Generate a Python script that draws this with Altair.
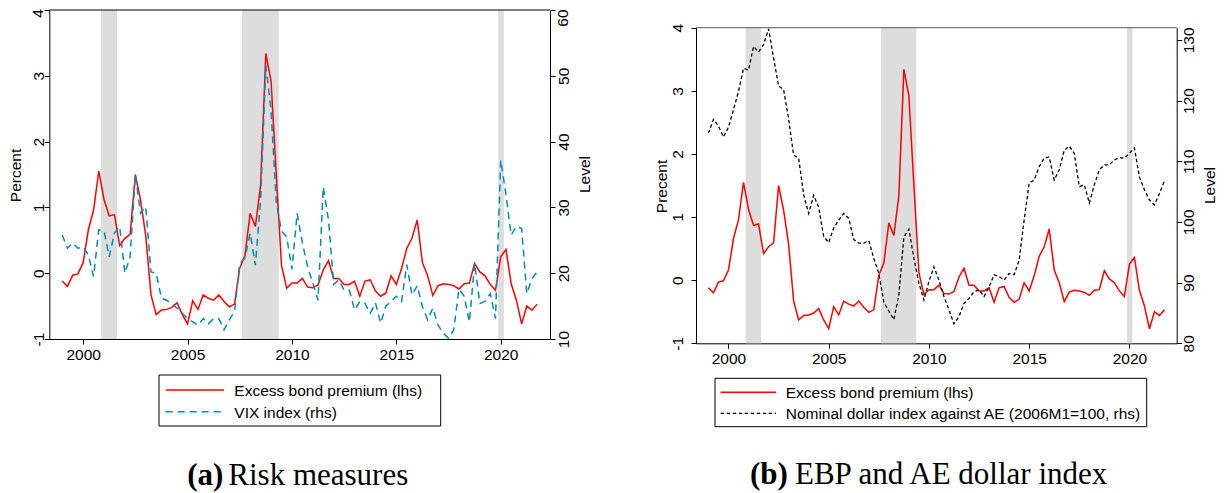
import altair as alt
import pandas as pd

# ---------------- data (quarterly, 1999Q1-2021Q4) ----------------
years = list(range(1999, 2022))
quarters = [1, 2, 3, 4]

ebp = [
    -0.12, -0.20, -0.03, -0.01,
    0.16, 0.66, 0.96, 1.55,
    1.12, 0.87, 0.89, 0.42,
    0.53, 0.59, 1.50, 1.11,
    0.57, -0.33, -0.63, -0.56,
    -0.55, -0.52, -0.45, -0.63,
    -0.77, -0.42, -0.55, -0.33,
    -0.38, -0.41, -0.33, -0.43,
    -0.51, -0.47, 0.08, 0.27,
    0.91, 0.71, 1.34, 3.34,
    2.92, 1.50, 0.12, -0.23,
    -0.15, -0.15, -0.08, -0.21,
    -0.22, -0.18, 0.05, 0.19,
    -0.08, -0.08, -0.17, -0.17,
    -0.12, -0.35, -0.12, -0.10,
    -0.27, -0.35, -0.30, -0.04,
    -0.17, 0.07, 0.38, 0.53,
    0.81, 0.16, -0.04, -0.34,
    -0.19, -0.16, -0.17, -0.19,
    -0.24, -0.16, -0.15, 0.15,
    0.02, -0.04, -0.17, -0.26,
    0.25, 0.36, -0.16, -0.41,
    -0.77, -0.50, -0.56, -0.47,
]

vix = [
    25.8, 23.8, 24.6, 23.8,
    24.0, 22.8, 19.5, 26.6,
    26.4, 22.5, 26.1, 27.1,
    20.0, 22.5, 34.9, 29.1,
    30.1, 20.2, 20.0, 16.2,
    15.9, 15.3, 14.7, 13.9,
    13.1, 12.6, 12.1, 13.1,
    12.3, 13.1, 13.1, 11.4,
    12.9, 14.2, 21.5, 22.3,
    26.1, 21.2, 31.1, 51.6,
    44.8, 30.8, 26.4, 25.5,
    20.6, 29.1, 24.6, 21.0,
    18.5, 15.9, 33.1, 28.1,
    18.3, 19.0, 17.4, 17.4,
    14.4, 15.7, 15.4, 13.9,
    15.5, 12.4, 15.0, 15.7,
    16.5, 15.7, 21.3, 16.7,
    18.1, 14.9, 12.9, 14.7,
    12.1, 10.9, 10.1, 11.4,
    17.6, 16.5, 12.6, 21.5,
    15.4, 15.7, 16.9, 13.1,
    37.2, 32.0, 25.8, 27.1,
    26.8, 16.9, 19.2, 20.2,
]

dollar = [
    114.6, 116.9, 115.8, 114.0,
    115.6, 118.5, 121.5, 125.3,
    125.0, 128.9, 128.0, 129.2,
    131.8, 127.0, 122.4, 121.8,
    117.0, 111.0, 110.5, 104.5,
    101.4, 104.4, 102.4, 97.6,
    96.6, 99.0, 100.3, 101.4,
    100.6, 97.1, 96.5, 96.5,
    96.9, 94.0, 91.5, 86.8,
    85.3, 83.9, 88.0, 97.5,
    98.8, 94.0, 89.9, 87.1,
    90.2, 92.6, 90.4, 87.7,
    85.5, 83.2, 84.4, 86.6,
    87.4, 88.5, 88.8, 87.7,
    89.3, 91.3, 91.0, 90.4,
    91.5, 91.3, 93.7, 100.3,
    106.4, 106.9, 109.1, 110.5,
    110.7, 106.9, 108.6, 111.8,
    112.5, 111.3, 105.8, 106.1,
    103.1, 106.1, 108.6, 109.4,
    109.4, 110.2, 110.6, 110.5,
    111.3, 112.2, 107.4, 105.3,
    103.6, 102.8, 104.7, 106.8,
]

rec_start = [2000.85, 2007.60, 2019.88]
rec_end = [2001.63, 2009.37, 2020.15]

x_ticks = [2000, 2005, 2010, 2015, 2020]
lhs_ticks = [-1, 0, 1, 2, 3, 4]
vix_ticks = [10, 20, 30, 40, 50, 60]
dollar_ticks = [80, 90, 100, 110, 120, 130]

legend_a = ["Excess bond premium (lhs)", "VIX index (rhs)"]
legend_b = ["Excess bond premium (lhs)", "Nominal dollar index against AE (2006M1=100, rhs)"]

t = [y + (q - 1) / 4 for y in years for q in quarters]
df = pd.DataFrame({"t": t, "ebp": ebp, "vix": vix, "dollar": dollar})
rec = pd.DataFrame({"start": rec_start, "end": rec_end})
one = pd.DataFrame({"a": [0]})

# ---------------- layout (chart pixel coordinates) ----------------
W, H = 1209, 485
SANS = "Liberation Sans"
SERIF = "Liberation Serif"
FS = 15.5

XDOM = [1998.38, 2022.36]
A_L, A_R, A_T, A_B = 41.3, 542.0, 2.0, 331.0
B_L, B_R, B_T, B_B = 688.0, 1168.7, 19.7, 335.3

XA = alt.Scale(domain=XDOM, range=[A_L, A_R], nice=False, zero=False)
XB = alt.Scale(domain=XDOM, range=[B_L, B_R], nice=False, zero=False)
YA = alt.Scale(domain=[-1, 4], range=[A_B, A_T], nice=False, zero=False)
YA2 = alt.Scale(domain=[10, 60], range=[A_B, A_T], nice=False, zero=False)
YB = alt.Scale(domain=[-1, 4], range=[B_B, B_T], nice=False, zero=False)
YB2 = alt.Scale(domain=[80, 132], range=[B_B, B_T], nice=False, zero=False)

common = dict(grid=False, tickSize=5, labelFlush=False, labelOverlap=False,
              domainColor="black", tickColor="black", labelColor="black",
              labelFont=SANS, labelFontSize=FS, domainWidth=1, tickWidth=1,
              titleFont=SANS, titleFontSize=FS, titleFontWeight="normal",
              titleColor="black")


def xaxis(offset):
    return alt.Axis(values=x_ticks, format="d", orient="bottom", offset=offset,
                    title=None, labelPadding=3, **common)


def yaxis(orient, offset, values, title, tx, ty, pad, baseline, hide=None):
    expr = "replace(datum.label, '\u2212', '-')"
    if hide is not None:
        expr = "datum.value == %s ? '' : %s" % (hide, expr)
    return alt.Axis(values=values, format="d", orient=orient, offset=offset,
                    labelAngle=270, labelAlign="center", labelBaseline=baseline,
                    labelPadding=pad, labelExpr=expr,
                    title=title, titleAngle=270, titleX=tx, titleY=ty,
                    titleAlign="center", titleBaseline="middle", **common)


layers = []

# recession shading
layers.append(alt.Chart(rec).mark_rect(color="#DDDDDD").encode(
    x=alt.X("start:Q", scale=XA, axis=None), x2="end:Q",
    y=alt.value(A_T), y2=alt.value(A_B)))
layers.append(alt.Chart(rec).mark_rect(color="#DDDDDD").encode(
    x=alt.X("start:Q", scale=XB, axis=None), x2="end:Q",
    y=alt.value(B_T), y2=alt.value(B_B)))

# panel (a)
layers.append(alt.Chart(df).mark_line(color="#FF0000", strokeWidth=1.5).encode(
    x=alt.X("t:Q", scale=XA, axis=xaxis(-(H - A_B))),
    y=alt.Y("ebp:Q", scale=YA,
            axis=yaxis("left", -A_L, lhs_ticks, "Percent", 7.5 - A_L, 167, 1,
                       "alphabetic", hide=4))))
layers.append(alt.Chart(df).mark_line(color="#008BBC", strokeWidth=1.5,
                                      strokeDash=[7, 5]).encode(
    x=alt.X("t:Q", scale=XA, axis=None),
    y=alt.Y("vix:Q", scale=YA2,
            axis=yaxis("right", -(W - A_R), vix_ticks, "Level", 576 - A_R, 166, 1,
                       "top", hide=60))))

# top labels of panel (a) kept inside the page
layers.append(alt.Chart(one).mark_text(angle=270, align="center", baseline="alphabetic",
                                       font=SANS, fontSize=FS, color="black").encode(
    x=alt.value(A_L - 6), y=alt.value(A_T + 3.5), text=alt.value(str(lhs_ticks[-1]))))
layers.append(alt.Chart(one).mark_text(angle=270, align="center", baseline="top",
                                       font=SANS, fontSize=FS, color="black").encode(
    x=alt.value(A_R + 6), y=alt.value(A_T + 8), text=alt.value(str(vix_ticks[-1]))))

# panel (b)
layers.append(alt.Chart(df).mark_line(color="#FF0000", strokeWidth=1.5).encode(
    x=alt.X("t:Q", scale=XB, axis=xaxis(-(H - B_B))),
    y=alt.Y("ebp:Q", scale=YB,
            axis=yaxis("left", -B_L, lhs_ticks, "Precent", 653.7 - B_L, 178, 9, "alphabetic"))))
layers.append(alt.Chart(df).mark_line(color="black", strokeWidth=1.3,
                                      strokeDash=[3.5, 2.5]).encode(
    x=alt.X("t:Q", scale=XB, axis=None),
    y=alt.Y("dollar:Q", scale=YB2,
            axis=yaxis("right", -(W - B_R), dollar_ticks, "Level", 1201 - B_R, 177, 0, "top"))))

# top borders
layers.append(alt.Chart(one).mark_rule(color="black", strokeWidth=1).encode(
    x=alt.value(A_L), x2=alt.value(A_R), y=alt.value(A_T)))
layers.append(alt.Chart(one).mark_rule(color="#777777", strokeWidth=1.3).encode(
    x=alt.value(B_L), x2=alt.value(B_R), y=alt.value(B_T)))

# legends
def legend(box, line_x, text_x, ys, labels, styles):
    out = [alt.Chart(one).mark_rect(fill="white", stroke="black", strokeWidth=1).encode(
        x=alt.value(box[0]), x2=alt.value(box[1]), y=alt.value(box[2]), y2=alt.value(box[3]))]
    for y, lab, st in zip(ys, labels, styles):
        out.append(alt.Chart(one).mark_rule(**st).encode(
            x=alt.value(line_x[0]), x2=alt.value(line_x[1]), y=alt.value(y)))
        out.append(alt.Chart(one).mark_text(align="left", baseline="middle", font=SANS,
                                            fontSize=FS, color="black").encode(
            x=alt.value(text_x), y=alt.value(y + 1), text=alt.value(lab)))
    return out

red_st = dict(color="#FF0000", strokeWidth=1.5)
layers += legend((151, 432.7, 367, 418), (157.7, 216), 226.3, [382, 403.7], legend_a,
                 [red_st, dict(color="#008BBC", strokeWidth=1.5, strokeDash=[7, 5])])
layers += legend((707, 1138.7, 370.3, 418.7), (712.7, 768), 777.7, [384.3, 405.3], legend_b,
                 [red_st, dict(color="black", strokeWidth=1.3, strokeDash=[3.5, 2.5])])

# captions
def caption(x1, bold, x2, rest, y):
    return [
        alt.Chart(one).mark_text(align="left", baseline="alphabetic", font=SERIF,
                                 fontSize=31, fontWeight="bold", color="black").encode(
            x=alt.value(x1), y=alt.value(y), text=alt.value(bold)),
        alt.Chart(one).mark_text(align="left", baseline="alphabetic", font=SERIF,
                                 fontSize=31, color="black").encode(
            x=alt.value(x2), y=alt.value(y), text=alt.value(rest)),
    ]

layers += caption(179.3, "(a)", 220.3, "Risk measures", 477)
layers += caption(742, "(b)", 787, "EBP and AE dollar index", 476)

chart = alt.layer(*layers).resolve_scale(x="independent", y="independent").properties(
    width=W, height=H, autosize=alt.AutoSizeParams(type="none"), padding=0
).configure_view(strokeWidth=0)

chart.save("out.html", embed_options={"renderer": "svg", "actions": False})
